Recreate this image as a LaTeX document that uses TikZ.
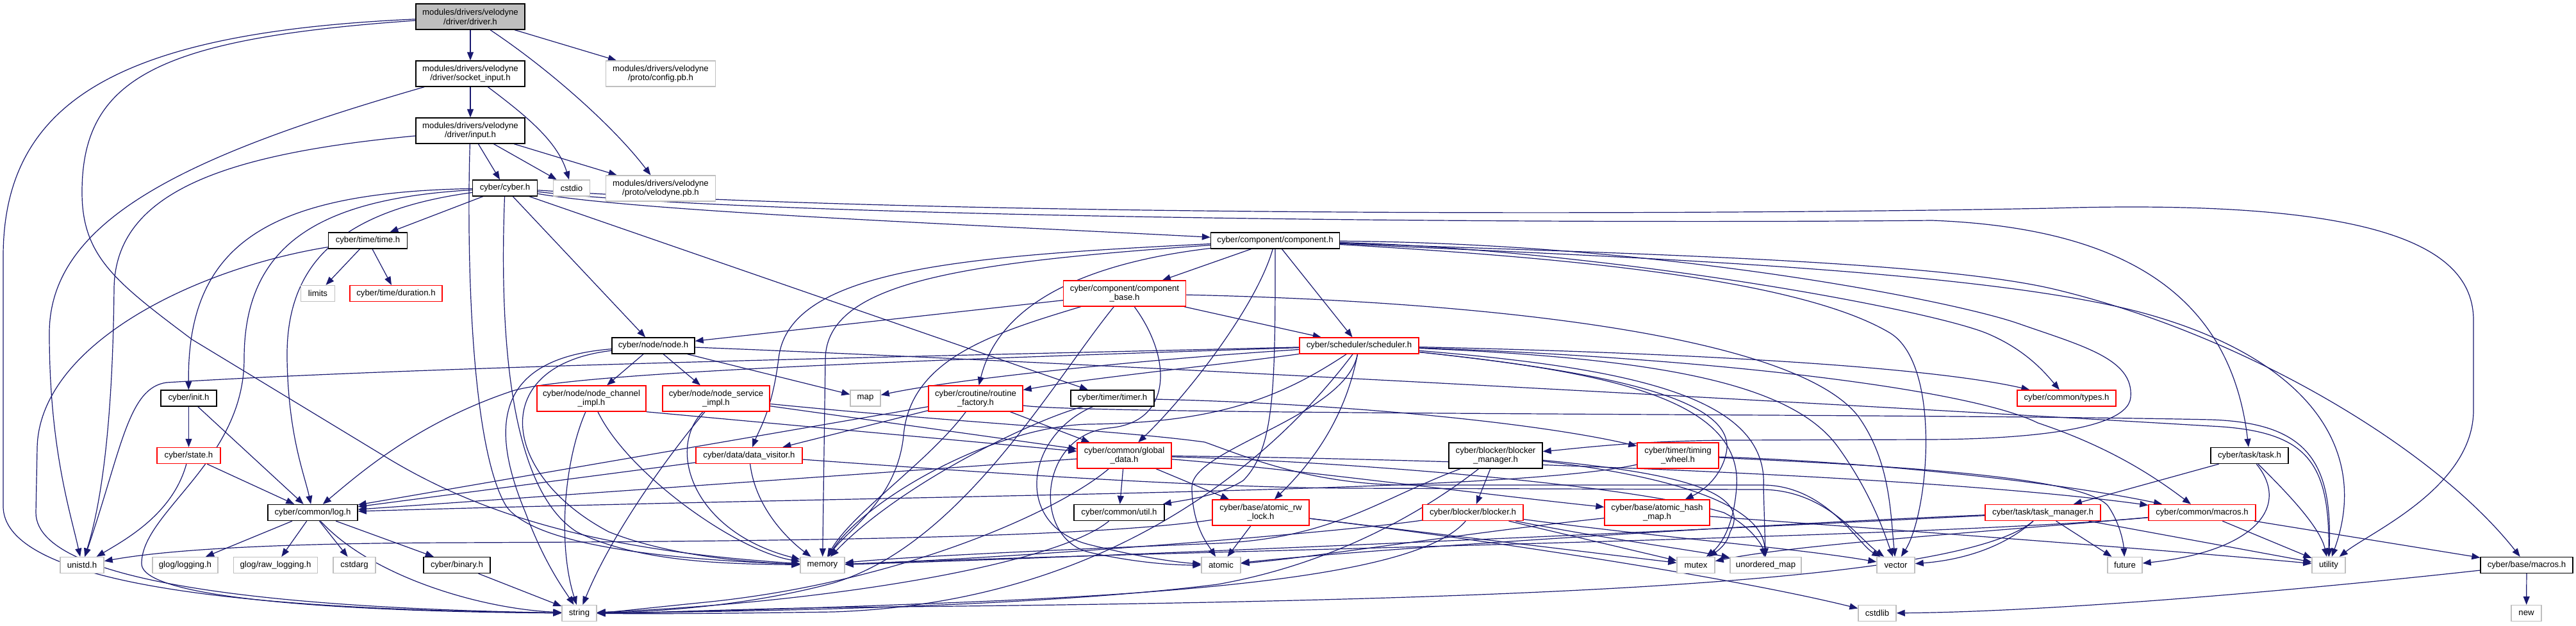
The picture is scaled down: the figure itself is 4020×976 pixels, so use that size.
\documentclass[tikz,border=0pt]{standalone}
\usepackage{fontspec}
\setmainfont{Liberation Sans}
\usetikzlibrary{arrows.meta}
\pgfdeclarelayer{bg}
\pgfsetlayers{bg,main}
\definecolor{edgec}{HTML}{191970}
\definecolor{redb}{HTML}{FF0000}
\definecolor{grayb}{HTML}{BFBFBF}
\tikzset{
 nd/.style={draw=black, fill=white, rectangle, inner sep=0pt, align=center, line width=0.7pt,
   font=\fontsize{6.6pt}{7.3pt}\selectfont, minimum height=12.5pt},
 two/.style={minimum height=20pt},
 gr/.style={draw=grayb},
 rd/.style={draw=redb},
 edg/.style={draw=edgec, line width=0.6pt, -{Triangle[length=6.5pt,width=5pt]}},
}
\begin{document}
\begin{tikzpicture}[x=0.5pt,y=0.5pt]
\useasboundingbox (0,0) rectangle (4020,-976);
% nodes
\node[nd,two,fill=grayb,minimum width=85pt] (drv) at (734,-26) {modules/drivers/velodyne\\/driver/driver.h};
\node[nd,two,minimum width=85pt] (sock) at (734,-115) {modules/drivers/velodyne\\/driver/socket\_input.h};
\node[nd,two,gr,minimum width=85.5pt] (cfg) at (1031,-115) {modules/drivers/velodyne\\/proto/config.pb.h};
\node[nd,two,minimum width=85pt] (inp) at (734,-204) {modules/drivers/velodyne\\/driver/input.h};
\node[nd,minimum width=50.5pt] (cyb) at (788,-293.5) {cyber/cyber.h};
\node[nd,gr,minimum width=28.5pt] (cstdio) at (892,-293.5) {cstdio};
\node[nd,two,gr,minimum width=85.5pt] (velo) at (1031,-294) {modules/drivers/velodyne\\/proto/velodyne.pb.h};
\node[nd,minimum width=61.5pt] (timeh) at (574,-375.5) {cyber/time/time.h};
\node[nd,gr,minimum width=26.5pt] (limits) at (496,-458) {limits};
\node[nd,rd,minimum width=72pt] (dur) at (618,-458) {cyber/time/duration.h};
\node[nd,minimum width=100.5pt] (comp) at (1990,-375.5) {cyber/component/component.h};
\node[nd,two,rd,minimum width=95.5pt] (cbase) at (1755,-458) {cyber/component/component\\\_base.h};
\node[nd,minimum width=64.5pt] (nodeh) at (1019.5,-539.5) {cyber/node/node.h};
\node[nd,rd,minimum width=93pt] (sched) at (2121,-539.5) {cyber/scheduler/scheduler.h};
\node[nd,minimum width=43.5pt] (init) at (294.5,-621.5) {cyber/init.h};
\node[nd,rd,minimum width=49.5pt] (state) at (294.5,-711) {cyber/state.h};
\node[nd,minimum width=70pt] (logh) at (488,-800) {cyber/common/log.h};
\node[nd,gr,minimum width=34pt] (unistd) at (128,-882) {unistd.h};
\node[nd,gr,minimum width=51pt] (glog) at (289,-882) {glog/logging.h};
\node[nd,gr,minimum width=65.5pt] (rawlog) at (430,-882) {glog/raw\_logging.h};
\node[nd,gr,minimum width=33pt] (cstdarg) at (553,-882) {cstdarg};
\node[nd,minimum width=52pt] (binary) at (713,-882) {cyber/binary.h};
\node[nd,gr,minimum width=27pt] (strg) at (904,-957) {string};
\node[nd,two,rd,minimum width=85pt] (nchan) at (923,-622) {cyber/node/node\_channel\\\_impl.h};
\node[nd,two,rd,minimum width=83.5pt] (nserv) at (1117.5,-622) {cyber/node/node\_service\\\_impl.h};
\node[nd,gr,minimum width=23.5pt] (maph) at (1350.5,-621.5) {map};
\node[nd,two,rd,minimum width=73.5pt] (rfact) at (1522.5,-622) {cyber/croutine/routine\\\_factory.h};
\node[nd,minimum width=65pt] (timer) at (1736,-621.5) {cyber/timer/timer.h};
\node[nd,rd,minimum width=83pt] (dvis) at (1169,-711) {cyber/data/data\_visitor.h};
\node[nd,two,rd,minimum width=73.5pt] (gdata) at (1754.5,-711) {cyber/common/global\\\_data.h};
\node[nd,minimum width=70.5pt] (util) at (1746.5,-800) {cyber/common/util.h};
\node[nd,two,rd,minimum width=75.5pt] (rwlock) at (1967.5,-800) {cyber/base/atomic\_rw\\\_lock.h};
\node[nd,gr,minimum width=34.5pt] (memory) at (1283.5,-882) {memory};
\node[nd,gr,minimum width=30.5pt] (atomic) at (1905.5,-882) {atomic};
\node[nd,two,minimum width=73pt] (bmgr) at (2334,-711) {cyber/blocker/blocker\\\_manager.h};
\node[nd,two,rd,minimum width=63.5pt] (twheel) at (2618.5,-711) {cyber/timer/timing\\\_wheel.h};
\node[nd,rd,minimum width=78.5pt] (blocker) at (2298.5,-800) {cyber/blocker/blocker.h};
\node[nd,two,rd,minimum width=82pt] (ahash) at (2586,-800) {cyber/base/atomic\_hash\\\_map.h};
\node[nd,gr,minimum width=29.5pt] (mutex) at (2646.5,-882) {mutex};
\node[nd,gr,minimum width=55.5pt] (umap) at (2755.5,-882) {unordered\_map};
\node[nd,gr,minimum width=29.5pt] (vector) at (2958.5,-882) {vector};
\node[nd,gr,minimum width=29.5pt] (cstdlib) at (2929.5,-957) {cstdlib};
\node[nd,rd,minimum width=77pt] (types) at (3225,-621.5) {cyber/common/types.h};
\node[nd,minimum width=60.5pt] (task) at (3510.5,-711) {cyber/task/task.h};
\node[nd,rd,minimum width=90pt] (tmgr) at (3188,-800) {cyber/task/task\_manager.h};
\node[nd,rd,minimum width=83.5pt] (cmacros) at (3436.5,-800) {cyber/common/macros.h};
\node[nd,gr,minimum width=27pt] (future) at (3316,-882) {future};
\node[nd,gr,minimum width=26pt] (utility) at (3634,-882) {utility};
\node[nd,minimum width=72pt] (bmacros) at (3943,-882) {cyber/base/macros.h};
\node[nd,gr,minimum width=23.5pt] (newh) at (3942.5,-957) {new};

\begin{pgfonlayer}{bg}
\fill[white] (0,0) rectangle (4020,-976);
% driver.h
\draw[edg] (drv) -- (sock);
\draw[edg] (drv) -- (cfg);
\draw[edg] (drv) .. controls (860,-110) and (960,-200) .. (velo);
\draw[edg] (drv) .. controls (200,-50) and (5,-150) .. (5,-400) -- (5,-790) .. controls (5,-930) and (500,-952) .. (strg);
\draw[edg] (drv) .. controls (250,-60) and (128,-120) .. (128,-300) .. controls (128,-400) and (180,-440) .. (300,-530) -- (600,-712) .. controls (760,-810) and (950,-860) .. (memory);
% socket_input.h
\draw[edg] (sock) -- (inp);
\draw[edg] (sock) .. controls (820,-180) and (870,-220) .. (cstdio);
\draw[edg] (sock) .. controls (300,-240) and (77,-340) .. (77,-520) .. controls (77,-700) and (110,-800) .. (unistd);
% input.h
\draw[edg] (inp) -- (cyb);
\draw[edg] (inp) -- (cstdio);
\draw[edg] (inp) -- (velo);
\draw[edg] (inp) .. controls (350,-240) and (180,-300) .. (178,-450) .. controls (176,-650) and (160,-780) .. (unistd);
\draw[edg] (inp) .. controls (728,-400) and (735,-700) .. (790,-790) .. controls (840,-860) and (1100,-875) .. (memory);
% cyber.h
\draw[edg] (cyb) -- (timeh);
\draw[edg] (cyb) .. controls (420,-300) and (292,-380) .. (init);
\draw[edg] (cyb) .. controls (500,-310) and (381,-380) .. (381,-560) .. controls (381,-720) and (220,-800) .. (221,-880) .. controls (222,-940) and (600,-955) .. (strg);
\draw[edg] (cyb) .. controls (520,-330) and (446,-420) .. (448,-560) .. controls (450,-680) and (475,-740) .. (logh);
\draw[edg] (cyb) .. controls (780,-500) and (790,-760) .. (900,-830) .. controls (1000,-880) and (1150,-880) .. (memory);
\draw[edg] (cyb) -- (nodeh);
\draw[edg] (cyb) .. controls (1000,-330) and (1500,-350) .. (comp);
\draw[edg] (cyb) -- (timer);
\draw[edg] (cyb) .. controls (1200,-340) and (2400,-350) .. (3015,-344) .. controls (3300,-355) and (3480,-450) .. (task);
\draw[edg] (cyb) .. controls (1500,-340) and (2700,-335) .. (3200,-325) .. controls (3700,-310) and (3860,-380) .. (3860,-500) -- (3860,-640) .. controls (3860,-760) and (3700,-830) .. (utility);
% time.h
\draw[edg] (timeh) -- (limits);
\draw[edg] (timeh) -- (dur);
\draw[edg] (timeh) .. controls (300,-420) and (60,-540) .. (58,-700) -- (56,-800) .. controls (56,-920) and (500,-950) .. (strg);
% init / state
\draw[edg] (init) -- (state);
\draw[edg] (init) -- (logh);
\draw[edg] (state) .. controls (270,-800) and (200,-840) .. (unistd);
\draw[edg] (state) -- (logh);
% log.h
\draw[edg] (logh) -- (glog);
\draw[edg] (logh) -- (rawlog);
\draw[edg] (logh) -- (cstdarg);
\draw[edg] (logh) -- (binary);
\draw[edg] (logh) .. controls (580,-900) and (750,-950) .. (strg);
\draw[edg] (binary) -- (strg);
% component.h
\draw[edg] (comp) -- (cbase);
\draw[edg] (comp) .. controls (1500,-400) and (1230,-420) .. (1215,-560) .. controls (1205,-640) and (1185,-670) .. (dvis);
\draw[edg] (comp) .. controls (1500,-410) and (1290,-440) .. (1288,-560) -- (memory);
\draw[edg] (comp) .. controls (1700,-410) and (1560,-470) .. (rfact);
\draw[edg] (comp) .. controls (1960,-480) and (1850,-620) .. (gdata);
\draw[edg] (comp) .. controls (1990,-600) and (1990,-700) .. (1940,-750) .. controls (1900,-775) and (1850,-780) .. (util);
\draw[edg] (comp) -- (sched);
\draw[edg] (comp) .. controls (2500,-390) and (3000,-480) .. (3100,-520) .. controls (3160,-545) and (3190,-580) .. (types);
\draw[edg] (comp) .. controls (2600,-380) and (3050,-470) .. (3150,-505) .. controls (3250,-540) and (3330,-560) .. (3325,-620) .. controls (3320,-680) and (3100,-686) .. (3000,-686) -- (2700,-687) .. controls (2550,-688) and (2460,-700) .. (bmgr);
\draw[edg] (comp) .. controls (2500,-395) and (3000,-405) .. (3200,-450) .. controls (3500,-520) and (3800,-700) .. (bmacros);
\draw[edg] (comp) .. controls (2500,-400) and (3100,-420) .. (3350,-490) .. controls (3600,-560) and (3700,-700) .. (utility);
\draw[edg] (comp) .. controls (2400,-400) and (2800,-430) .. (2950,-520) .. controls (3030,-570) and (3010,-800) .. (vector);
% component_base.h
\draw[edg] (cbase) -- (nodeh);
\draw[edg] (cbase) -- (sched);
\draw[edg] (cbase) .. controls (1550,-520) and (1420,-560) .. (1410,-680) .. controls (1400,-780) and (1320,-830) .. (memory);
\draw[edg] (cbase) .. controls (1640,-600) and (1500,-850) .. (1300,-910) .. controls (1150,-950) and (1000,-955) .. (strg);
\draw[edg] (cbase) .. controls (2300,-470) and (2800,-520) .. (2900,-650) .. controls (2950,-720) and (2950,-800) .. (vector);
\draw[edg] (cbase) .. controls (1830,-560) and (1830,-660) .. (1730,-668) .. controls (1620,-680) and (1610,-840) .. (1700,-862) .. controls (1780,-880) and (1840,-882) .. (atomic);
% node.h
\draw[edg] (nodeh) -- (nchan);
\draw[edg] (nodeh) -- (nserv);
\draw[edg] (nodeh) -- (maph);
\draw[edg] (nodeh) .. controls (1800,-570) and (3200,-650) .. (3450,-665) .. controls (3600,-672) and (3635,-720) .. (utility);
\draw[edg] (nodeh) .. controls (760,-560) and (770,-680) .. (820,-800) .. controls (850,-880) and (880,-920) .. (strg);
\draw[edg] (nodeh) .. controls (760,-570) and (780,-740) .. (950,-830) .. controls (1050,-870) and (1180,-878) .. (memory);
% node_channel_impl.h
\draw[edg] (nchan) .. controls (880,-720) and (870,-850) .. (strg);
\draw[edg] (nchan) .. controls (980,-740) and (1150,-860) .. (memory);
\draw[edg] (nchan.south east) -- (gdata);
% node_service_impl.h
\draw[edg] (nserv) -- (gdata);
\draw[edg] (nserv) .. controls (1500,-660) and (1750,-672) .. (1880,-690) .. controls (1950,-715) and (2050,-757) .. (2200,-757) -- (2750,-757) .. controls (2850,-757) and (2900,-850) .. (vector);
\draw[edg] (nserv) .. controls (1040,-700) and (1080,-830) .. (memory);
\draw[edg] (nserv) .. controls (1060,-690) and (960,-820) .. (strg);
% data_visitor.h
\draw[edg] (dvis) -- (logh);
\draw[edg] (dvis) .. controls (1180,-800) and (1240,-850) .. (memory);
\draw[edg] (dvis) .. controls (1500,-735) and (1850,-760) .. (2100,-762) -- (2750,-764) .. controls (2850,-765) and (2900,-840) .. (vector);
% routine_factory.h
\draw[edg] (rfact) -- (dvis);
\draw[edg] (rfact) -- (gdata);
\draw[edg] (rfact) .. controls (1450,-720) and (1330,-800) .. (memory);
\draw[edg] (rfact) -- (logh);
\draw[edg] (rfact) .. controls (1700,-648) and (3000,-645) .. (3450,-655) .. controls (3600,-660) and (3640,-720) .. (utility);
% timer.h
\draw[edg] (timer) .. controls (2100,-630) and (2400,-660) .. (twheel);
\draw[edg] (timer) .. controls (1600,-660) and (1400,-760) .. (memory);
\draw[edg] (timer) .. controls (1600,-680) and (1580,-820) .. (1700,-850) .. controls (1780,-870) and (1840,-878) .. (atomic);
% global_data.h
\draw[edg] (gdata) -- (util);
\draw[edg] (gdata) -- (rwlock);
\draw[edg] (gdata) -- (logh);
\draw[edg] (gdata) .. controls (1650,-800) and (1400,-910) .. (1100,-940) .. controls (1000,-950) and (960,-955) .. (strg);
\draw[edg] (gdata) .. controls (2000,-730) and (2300,-770) .. (ahash);
\draw[edg] (gdata) .. controls (2100,-720) and (2550,-757) .. (2690,-800) .. controls (2730,-820) and (2750,-850) .. (umap);
\draw[edg] (gdata) .. controls (2200,-715) and (3000,-740) .. (cmacros);
% util.h
\draw[edg] (util) .. controls (1650,-880) and (1300,-940) .. (strg);
% atomic_rw_lock.h
\draw[edg] (rwlock) -- (atomic);
\draw[edg] (rwlock) .. controls (1700,-840) and (1200,-845) .. (700,-847) .. controls (400,-848) and (250,-860) .. (unistd);
\draw[edg] (rwlock) .. controls (2300,-840) and (2700,-900) .. (cstdlib);
\draw[edg] (rwlock) -- (mutex);
% scheduler.h
\draw[edg] (sched) .. controls (1800,-560) and (1500,-590) .. (maph);
\draw[edg] (sched) .. controls (1900,-570) and (1700,-590) .. (rfact);
\draw[edg] (sched) .. controls (1500,-555) and (700,-570) .. (260,-597) .. controls (200,-605) and (190,-700) .. (unistd);
\draw[edg] (sched) .. controls (1500,-560) and (900,-580) .. (800,-610) .. controls (650,-660) and (560,-740) .. (logh);
\draw[edg] (sched) .. controls (2100,-650) and (2050,-720) .. (rwlock);
\draw[edg] (sched) .. controls (2100,-650) and (1860,-700) .. (1860,-760) .. controls (1860,-820) and (1885,-850) .. (atomic);
\draw[edg] (sched) .. controls (2000,-620) and (1900,-660) .. (1700,-662) .. controls (1550,-665) and (1350,-780) .. (memory);
\draw[edg] (sched) .. controls (2000,-700) and (1750,-940) .. (1300,-955) .. controls (1100,-958) and (1000,-958) .. (strg);
\draw[edg] (sched) .. controls (2500,-580) and (2720,-620) .. (2710,-760) .. controls (2705,-830) and (2680,-855) .. (mutex);
\draw[edg] (sched) .. controls (2550,-575) and (2760,-620) .. (2752,-760) -- (umap);
\draw[edg] (sched) .. controls (2600,-560) and (2800,-600) .. (2870,-700) .. controls (2920,-770) and (2940,-830) .. (vector);
\draw[edg] (sched) .. controls (2500,-580) and (2700,-620) .. (2695,-700) .. controls (2690,-740) and (2660,-765) .. (ahash);
\draw[edg] (sched) .. controls (2700,-560) and (3080,-610) .. (3180,-660) .. controls (3300,-700) and (3370,-750) .. (cmacros);
\draw[edg] (sched) .. controls (2600,-550) and (3000,-570) .. (types);
% blocker_manager.h
\draw[edg] (bmgr) -- (blocker);
\draw[edg] (bmgr) .. controls (2150,-780) and (2080,-840) .. (1900,-848) .. controls (1600,-860) and (1400,-870) .. (memory);
\draw[edg] (bmgr) .. controls (2220,-800) and (2080,-880) .. (1900,-912) .. controls (1600,-950) and (1100,-955) .. (strg);
\draw[edg] (bmgr) .. controls (2580,-735) and (2740,-760) .. (2700,-830) .. controls (2695,-850) and (2680,-860) .. (mutex);
\draw[edg] (bmgr) .. controls (2580,-740) and (2750,-780) .. (umap);
% blocker.h
\draw[edg] (blocker) .. controls (2100,-830) and (1600,-870) .. (memory);
\draw[edg] (blocker) .. controls (2230,-880) and (2000,-920) .. (1500,-940) .. controls (1200,-952) and (1000,-957) .. (strg);
\draw[edg] (blocker) -- (mutex);
\draw[edg] (blocker) .. controls (2500,-840) and (2650,-860) .. (umap);
\draw[edg] (blocker) .. controls (2600,-840) and (2800,-855) .. (vector);
% timing_wheel.h
\draw[edg] (twheel) .. controls (2350,-770) and (1500,-770) .. (logh);
\draw[edg] (twheel) .. controls (2900,-725) and (3250,-740) .. (3290,-790) .. controls (3310,-820) and (3314,-850) .. (future);
\draw[edg] (twheel) .. controls (2900,-720) and (3200,-750) .. (cmacros);
% atomic_hash_map.h
\draw[edg] (ahash) .. controls (2300,-830) and (2050,-870) .. (atomic);
\draw[edg] (ahash) .. controls (3000,-830) and (3400,-860) .. (utility);
% task.h
\draw[edg] (task) -- (tmgr);
\draw[edg] (task) .. controls (3575,-790) and (3520,-860) .. (future);
\draw[edg] (task) .. controls (3560,-760) and (3620,-820) .. (utility);
% task_manager.h
\draw[edg] (tmgr) -- (future);
\draw[edg] (tmgr) -- (utility);
\draw[edg] (tmgr) .. controls (2700,-820) and (2100,-860) .. (atomic);
\draw[edg] (tmgr) .. controls (2600,-830) and (1700,-870) .. (memory);
\draw[edg] (tmgr) .. controls (3050,-920) and (2200,-940) .. (1300,-948) .. controls (1100,-952) and (1000,-957) .. (strg);
\draw[edg] (tmgr) .. controls (3120,-860) and (3050,-875) .. (vector);
% common/macros.h
\draw[edg] (cmacros) -- (utility);
\draw[edg] (cmacros) -- (bmacros);
\draw[edg] (cmacros) .. controls (3000,-840) and (1800,-860) .. (memory);
\draw[edg] (cmacros) .. controls (3100,-830) and (2800,-850) .. (mutex);
% base/macros.h
\draw[edg] (bmacros) -- (newh);
\draw[edg] (bmacros) .. controls (3600,-920) and (3200,-955) .. (cstdlib);
\end{pgfonlayer}
\end{tikzpicture}
\end{document}
